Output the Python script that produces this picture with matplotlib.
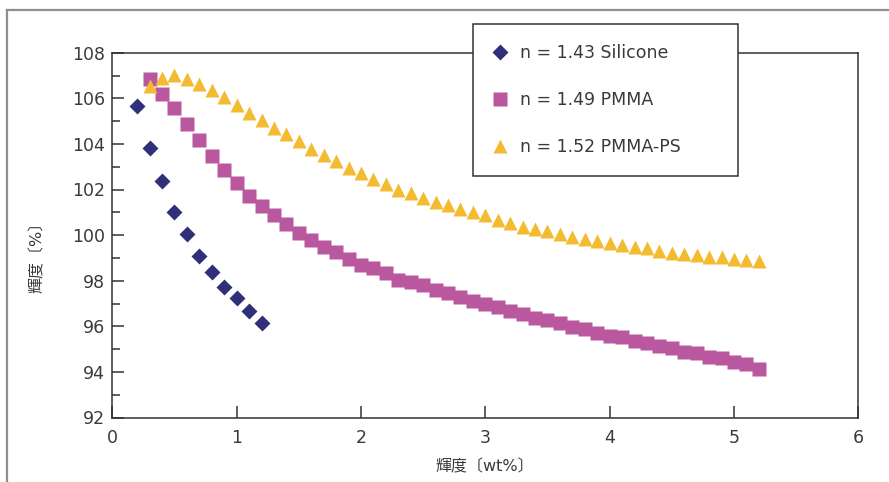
import matplotlib
matplotlib.use('Agg')
from matplotlib import pyplot as plt
from matplotlib.lines import Line2D
from matplotlib.ticker import MultipleLocator

plt.rcParams['font.family'] = ['DejaVu Sans', 'Noto Sans CJK JP']

# silicone, n = 1.43
si_x = [0.2, 0.3, 0.4, 0.5, 0.6, 0.7, 0.8, 0.9, 1.0, 1.1, 1.2]
si_y = [105.66, 103.84, 102.39, 101.03, 100.05, 99.10, 98.39, 97.74, 97.22, 96.69, 96.16]

# PMMA (n = 1.49) and PMMA-PS (n = 1.52) share the same loadings
pm_x = [0.3, 0.4, 0.5, 0.6, 0.7, 0.8, 0.9, 1.0, 1.1, 1.2,
        1.3, 1.4, 1.5, 1.6, 1.7, 1.8, 1.9, 2.0, 2.1, 2.2,
        2.3, 2.4, 2.5, 2.6, 2.7, 2.8, 2.9, 3.0, 3.1, 3.2,
        3.3, 3.4, 3.5, 3.6, 3.7, 3.8, 3.9, 4.0, 4.1, 4.2,
        4.3, 4.4, 4.5, 4.6, 4.7, 4.8, 4.9, 5.0, 5.1, 5.2]
pmma_y = [106.83, 106.19, 105.56, 104.87, 104.17, 103.47, 102.86, 102.27, 101.72, 101.28,
          100.88, 100.49, 100.11, 99.79, 99.50, 99.25, 98.94, 98.69, 98.56, 98.32,
          98.05, 97.96, 97.79, 97.60, 97.48, 97.30, 97.13, 96.98, 96.86, 96.69,
          96.56, 96.37, 96.28, 96.16, 95.99, 95.87, 95.72, 95.58, 95.52, 95.37,
          95.26, 95.14, 95.07, 94.89, 94.82, 94.67, 94.60, 94.45, 94.35, 94.14]
ps_y = [106.54, 106.90, 107.02, 106.83, 106.61, 106.36, 106.07, 105.71, 105.34, 105.05,
        104.71, 104.44, 104.13, 103.78, 103.50, 103.25, 102.93, 102.71, 102.46, 102.22,
        102.00, 101.86, 101.61, 101.47, 101.31, 101.13, 101.02, 100.87, 100.67, 100.55,
        100.37, 100.26, 100.18, 100.04, 99.93, 99.83, 99.76, 99.67, 99.57, 99.49,
        99.42, 99.32, 99.23, 99.17, 99.13, 99.06, 99.03, 98.94, 98.91, 98.85]

labels = ['n = 1.43 Silicone', 'n = 1.49 PMMA', 'n = 1.52 PMMA-PS']

W, H = 889, 482
fig = plt.figure(figsize=(W / 100, H / 100), dpi=100)
ax = fig.add_axes([112.3 / W, 1 - 417.5 / H, (858.3 - 112.3) / W, (417.5 - 52.7) / H])

ax.plot(si_x, si_y, 'D', color='#2f3079', ms=8.0, mec='none', label=labels[0])
ax.plot(pm_x, pmma_y, 's', color='#b9579f', ms=9.8, mec='none', label=labels[1])
ax.plot(pm_x, ps_y, '^', color='#f2bb30', ms=10.5, mec='none', label=labels[2])

ax.set_xlim(0, 6)
ax.set_ylim(92, 108)
ax.xaxis.set_major_locator(MultipleLocator(1))
ax.yaxis.set_major_locator(MultipleLocator(2))
ax.yaxis.set_minor_locator(MultipleLocator(1))

txt = '#3a3a3a'
for s in ax.spines.values():
    s.set_color('#333333')
    s.set_linewidth(1.1)
ax.tick_params(which='both', direction='in', colors='#333333', labelcolor=txt,
               labelsize=12.5, width=1.1, top=False, right=False)
ax.tick_params(which='major', length=8.5)
ax.tick_params(which='minor', length=5.8)
ax.tick_params(axis='x', pad=8)
ax.tick_params(axis='y', pad=5)

ax.set_xlabel('輝度〔wt%〕', fontsize=11.5, color=txt, labelpad=9)
ax.set_ylabel('輝度〔%〕', fontsize=11.5, color=txt)
ax.yaxis.set_label_coords(-0.09, 0.45)

# legend box sits partly above the axes, as in the original layout
leg = ax.legend(loc='upper left', mode='expand',
                bbox_to_anchor=(473 / W, 1 - 175 / H, 265 / W, 151 / H),
                bbox_transform=fig.transFigure, fontsize=12.5, frameon=True,
                fancybox=False, framealpha=1, edgecolor='#333333',
                borderpad=1.15, labelspacing=1.67, handlelength=0.8,
                handletextpad=0.75, borderaxespad=0, labelcolor=txt)
leg.get_frame().set_linewidth(1.1)

# grey frame of the figure panel
fig.add_artist(Line2D([7 / W, 1], [1 - 10 / H, 1 - 10 / H], transform=fig.transFigure,
                      color='#8f8f8f', lw=1.6))
fig.add_artist(Line2D([7 / W, 7 / W], [0, 1 - 10 / H], transform=fig.transFigure,
                      color='#8f8f8f', lw=1.6))

fig.savefig('out.png', dpi=100)
